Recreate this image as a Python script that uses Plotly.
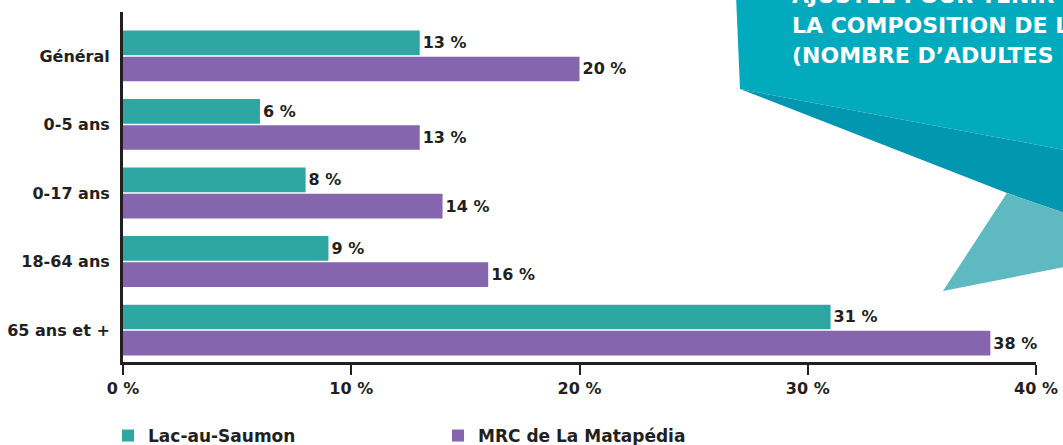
import plotly.graph_objects as go

# ── data ────────────────────────────────────────────────────────────────────
categories = ["Général", "0-5 ans", "0-17 ans", "18-64 ans", "65 ans et +"]
lac_au_saumon = [13, 6, 8, 9, 31]
mrc_matapedia = [20, 13, 14, 16, 38]
series_names = ["Lac-au-Saumon", "MRC de La Matapédia"]
x_ticks = [0, 10, 20, 30, 40]
x_tick_labels = ["0 %", "10 %", "20 %", "30 %", "40 %"]
callout_lines = [
    "AJUSTÉE POUR TENIR COMPTE DE",
    "LA COMPOSITION DE LA",
    "(NOMBRE D’ADULTES ET",
]

W, H = 1063, 445
ML, MR, MT, MB = 123, 27, 12, 83
TEXT = "#231f20"
FONT = "DejaVu Sans"
TEAL = "#2ea6a2"
PURPLE = "#8566ae"


def px(xp, yp):
    # pixel position -> paper coordinates (for the decorative callout only)
    return (xp - ML) / (W - ML - MR), (H - MB - yp) / (H - MT - MB)


fig = go.Figure()

for name, values, colour in [(series_names[0], lac_au_saumon, TEAL),
                             (series_names[1], mrc_matapedia, PURPLE)]:
    fig.add_trace(go.Bar(
        y=categories, x=values, orientation="h", name=name,
        marker=dict(color=colour, line=dict(width=0)),
        text=[f"{v} %" for v in values], textposition="outside",
        cliponaxis=False, constraintext="none",
        textfont=dict(family=FONT, size=16, color=TEXT, weight="bold"),
        hoverinfo="x+y",
    ))

# ── decorative callout (top right) ──────────────────────────────────────────
def path(points):
    pts = [px(*p) for p in points]
    return "M " + " L ".join(f"{x:.4f},{y:.4f}" for x, y in pts) + " Z"

shapes = [
    dict(type="path", xref="paper", yref="paper", layer="below",
         path=path([(736, -5), (1070, -5), (1070, 151), (740, 89)]),
         fillcolor="#02aabe", line=dict(width=0)),
    dict(type="path", xref="paper", yref="paper", layer="below",
         path=path([(740, 89), (1070, 151), (1070, 215), (1007, 193)]),
         fillcolor="#0197b0", line=dict(width=0)),
    dict(type="path", xref="paper", yref="paper", layer="below",
         path=path([(1007, 193), (1070, 215), (1070, 266), (943, 291)]),
         fillcolor="#5fb9c1", line=dict(width=0)),
]

annotations = []
for i, line in enumerate(callout_lines):
    xa, ya = px(790, -5 + 30 * i)
    annotations.append(dict(
        x=xa, y=ya, xref="paper", yref="paper", xanchor="left", yanchor="middle",
        text=line, showarrow=False,
        font=dict(family=FONT, size=22, color="white", weight="bold"),
    ))

fig.update_layout(
    width=W, height=H,
    margin=dict(l=ML, r=MR, t=MT, b=MB, autoexpand=False),
    paper_bgcolor="white", plot_bgcolor="white",
    barmode="group", bargap=0.24, bargroupgap=0.05,
    shapes=shapes, annotations=annotations,
    font=dict(family=FONT, color=TEXT),
    legend=dict(
        orientation="h", x=(ML - 15) / W, y=(H - 436) / H,
        xref="container", yref="container",
        xanchor="left", yanchor="middle",
        entrywidth=285, entrywidthmode="pixels",
        font=dict(family=FONT, size=17, color=TEXT, weight="bold"),
        bgcolor="rgba(0,0,0,0)",
    ),
    xaxis=dict(
        range=[0, 40], tickvals=x_ticks, ticktext=x_tick_labels,
        showgrid=False, zeroline=False, automargin=False,
        showline=True, linecolor=TEXT, linewidth=2.5,
        ticks="outside", ticklen=10, tickwidth=2, tickcolor=TEXT,
        tickfont=dict(family=FONT, size=16, color=TEXT, weight="bold"),
    ),
    yaxis=dict(
        categoryorder="array", categoryarray=categories,
        range=[4.467, -0.642], automargin=False,
        showgrid=False, zeroline=False,
        showline=True, linecolor=TEXT, linewidth=3,
        ticks="", ticklabelstandoff=7,
        tickfont=dict(family=FONT, size=16, color=TEXT, weight="bold"),
    ),
)

# drop the default 8px page margin so the figure sits at the window's corner
fig.write_html("out.html", config={"displayModeBar": False},
               post_script="document.body.style.margin='0';")
